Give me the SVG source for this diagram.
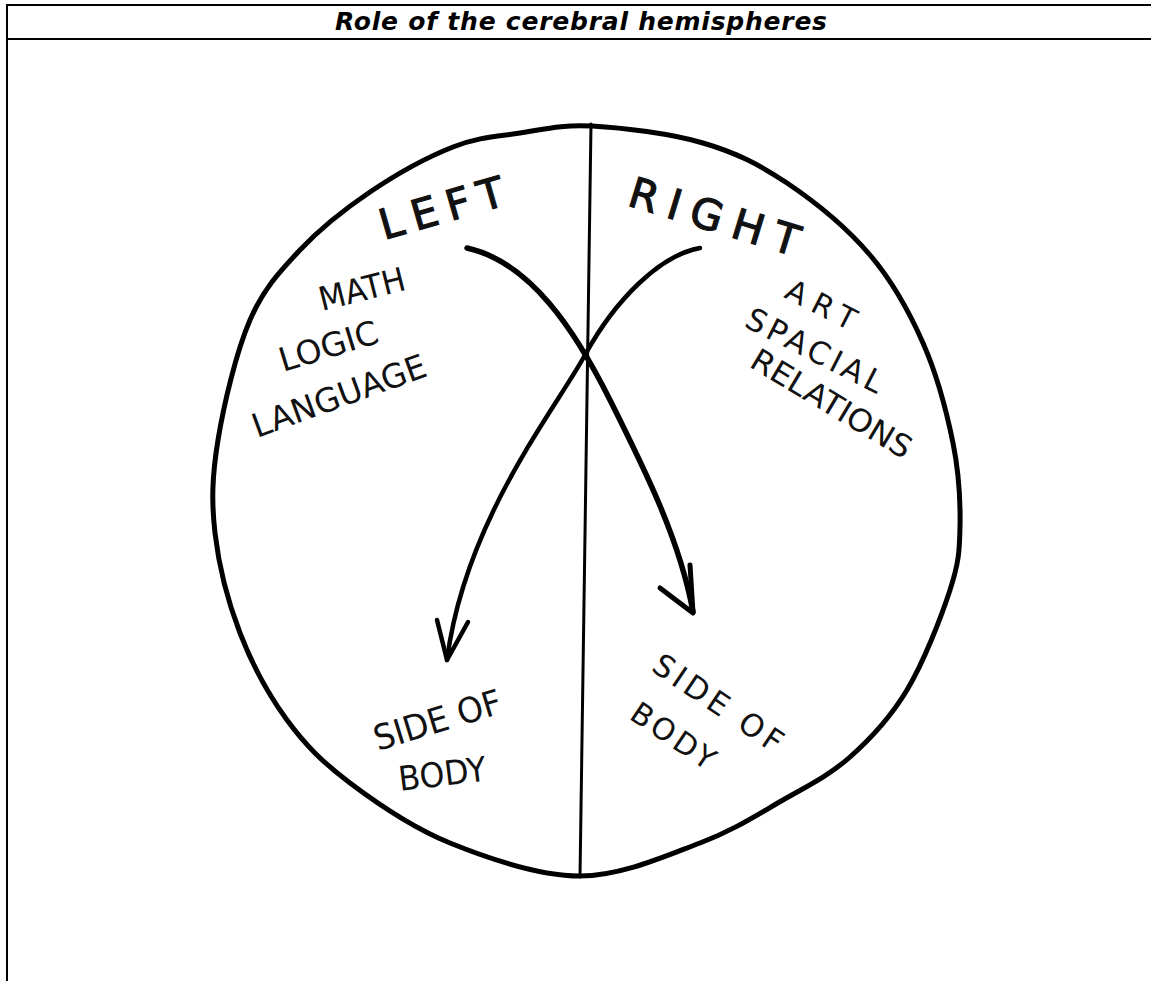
<svg xmlns="http://www.w3.org/2000/svg" width="1151" height="981" viewBox="0 0 1151 981">
<style>
.frame{stroke:#000;stroke-width:2;fill:none}
.title{font-family:"DejaVu Sans","Liberation Sans",sans-serif;font-weight:bold;font-style:italic;font-size:25px;fill:#000}
.hand{font-family:"DejaVu Sans","Liberation Sans",sans-serif;fill:#111}
.big{font-size:42px;stroke:#111;stroke-width:1.2}
.mid{font-size:33px}
.ink{stroke:#000;fill:none;stroke-linecap:round;stroke-linejoin:round}
</style>
<rect width="1151" height="981" fill="#fff"/>
<g id="frame">
<line class="frame" x1="6" y1="5" x2="1151" y2="5"/>
<line class="frame" x1="6" y1="39" x2="1151" y2="39"/>
<line class="frame" x1="7" y1="4" x2="7" y2="981"/>
<text class="title" x="581" y="30" text-anchor="middle" textLength="492">Role of the cerebral hemispheres</text>
</g>
<g id="brain">
<path class="ink" stroke-width="5" d="M592,126 C622.5,127.7 670.5,133.5 703,143 C735.5,152.5 759.2,164.3 787,183 C814.8,201.7 847.3,228.3 870,255 C892.7,281.7 909.2,311.7 923,343 C936.8,374.3 946.8,412.3 953,443 C959.2,473.7 960.5,502.5 960,527 C959.5,551.5 958.8,562.8 950,590 C941.2,617.2 923.7,662.2 907,690 C890.3,717.8 870.7,738.7 850,757 C829.3,775.3 808,785.7 783,800 C758,814.3 733.8,830.3 700,843 C666.2,855.7 621.7,876 580,876 C538.3,876 488.3,858.5 450,843 C411.7,827.5 377.2,803.5 350,783 C322.8,762.5 305.3,745 287,720 C268.7,695 252,664.2 240,633 C228,601.8 218.7,565.2 215,533 C211.3,500.8 212.2,475.5 218,440 C223.8,404.5 236.3,351.7 250,320 C263.7,288.3 280,271.3 300,250 C320,228.7 344.5,209.2 370,192 C395.5,174.8 428,156.8 453,147 C478,137.2 496.8,136.5 520,133 C543.2,129.5 561.5,124.3 592,126 Z"/>
<line class="ink" stroke-width="3" x1="591" y1="124" x2="580" y2="877"/>
</g>
<g id="left-label">
<text class="hand big" font-size="45" transform="translate(384,240) rotate(-16)" textLength="128">LEFT</text>
<text class="hand mid" transform="translate(322,311) rotate(-14)" textLength="88" lengthAdjust="spacingAndGlyphs">MATH</text>
<text class="hand mid" transform="translate(283,372) rotate(-17)" textLength="102" lengthAdjust="spacingAndGlyphs">LOGIC</text>
<text class="hand mid" transform="translate(257,438) rotate(-20)" textLength="183" lengthAdjust="spacingAndGlyphs">LANGUAGE</text>
</g>
<g id="right-label">
<text class="hand big" font-size="40" transform="translate(626,205) rotate(17)" textLength="176">RIGHT</text>
<text class="hand" font-size="30" transform="translate(783,297) rotate(27)" textLength="75">ART</text>
<text class="hand" font-size="31" transform="translate(743,326) rotate(27)" textLength="150">SPACIAL</text>
<text class="hand" font-size="31" transform="translate(748,366) rotate(31)" textLength="182" lengthAdjust="spacingAndGlyphs">RELATIONS</text>
</g>
<g id="left-body">
<text class="hand" font-size="35" transform="translate(378,751) rotate(-17)" textLength="132" lengthAdjust="spacingAndGlyphs">SIDE OF</text>
<text class="hand" font-size="34" transform="translate(400,791) rotate(-7)" textLength="88" lengthAdjust="spacingAndGlyphs">BODY</text>
</g>
<g id="right-body">
<text class="hand" font-size="31" transform="translate(650,670) rotate(34)" textLength="150">SIDE OF</text>
<text class="hand" font-size="30" transform="translate(628,718) rotate(34)" textLength="95">BODY</text>
</g>
<g id="connectors">
<path class="ink" stroke-width="5.5" d="M467,248 C530,262 575,330 610,400 C645,470 680,540 693,612"/>
<path class="ink" stroke-width="5" d="M660,588 L693,613 L690,565"/>
<path class="ink" stroke-width="4.5" d="M700,248 C660,255 615,300 585,355 C555,410 465,520 447,660"/>
<path class="ink" stroke-width="4.5" d="M437,620 L447,660 L468,622"/>
</g>
</svg>
